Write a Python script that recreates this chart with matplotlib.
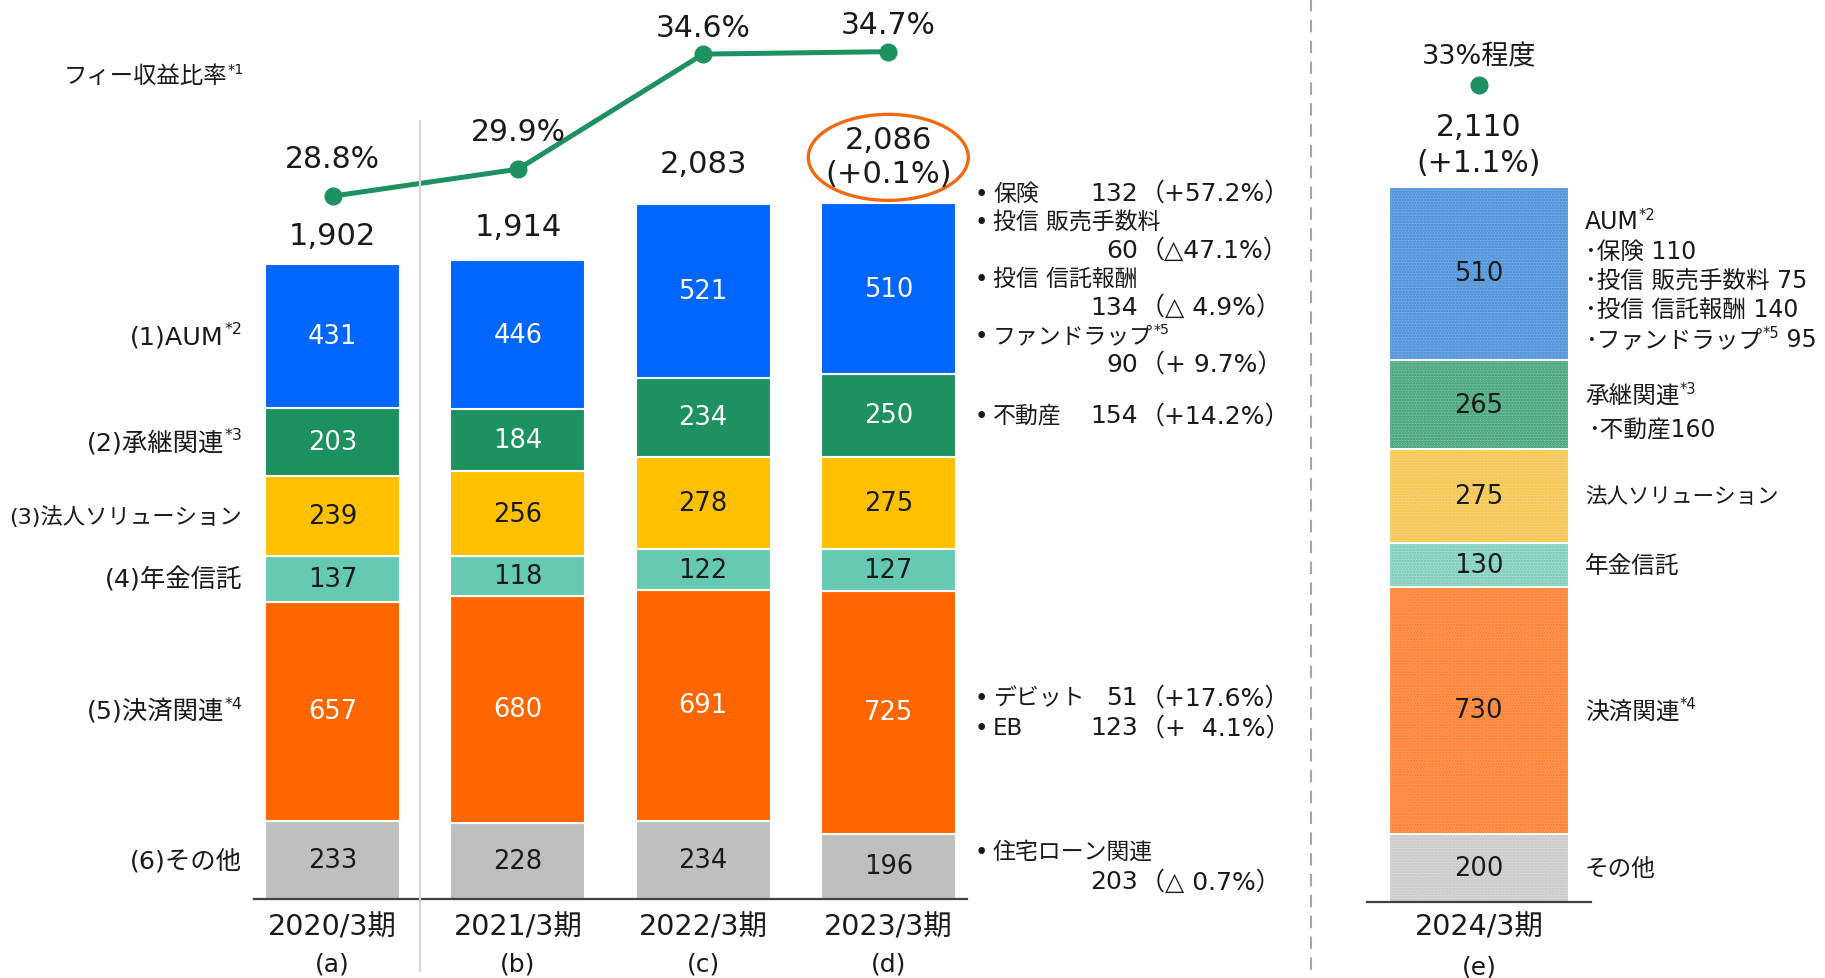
import matplotlib
matplotlib.use("Agg")
import numpy as np
import matplotlib.pyplot as plt
from matplotlib.patches import Ellipse
from matplotlib.lines import Line2D
from matplotlib.transforms import IdentityTransform

plt.rcParams['font.family'] = ['DejaVu Sans', 'Noto Sans CJK JP']
plt.rcParams['hatch.linewidth'] = 1.2

# ---------------- data ----------------
periods = ['2020/3期', '2021/3期', '2022/3期', '2023/3期']
period_tags = ['(a)', '(b)', '(c)', '(d)']
seg_labels = ['(1)AUM', '(2)承継関連', '(3)法人ソリューション', '(4)年金信託', '(5)決済関連', '(6)その他']
seg_notes = ['*2', '*3', '', '', '*4', '']
aum = [431, 446, 521, 510]
succession = [203, 184, 234, 250]
corporate = [239, 256, 278, 275]
pension = [137, 118, 122, 127]
settlement = [657, 680, 691, 725]
other = [233, 228, 234, 196]
totals = [1902, 1914, 2083, 2086]
last_growth = '+0.1%'
fee_ratio = [28.8, 29.9, 34.6, 34.7]

plan_period = '2024/3期'
plan_tag = '(e)'
plan_values = [510, 265, 275, 130, 730, 200]   # AUM .. その他 (top to bottom)
plan_total = 2110
plan_growth = '+1.1%'
plan_ratio = 33
plan_labels = ['AUM', '承継関連', '法人ソリューション', '年金信託', '決済関連', 'その他']
plan_notes = ['*2', '*3', '', '', '*4', '']

aum_items = ['保険', '投信 販売手数料', '投信 信託報酬', 'ファンドラップ']
aum_items_2023 = [132, 60, 134, 90]
aum_items_chg = ['+57.2%', '△47.1%', '△ 4.9%', '+ 9.7%']
aum_items_plan = [110, 75, 140, 95]
realty_2023, realty_chg, realty_plan = 154, '+14.2%', 160
settle_items = ['デビット', 'EB']
settle_items_2023 = [51, 123]
settle_items_chg = ['+17.6%', '+  4.1%']
mortgage_2023, mortgage_chg = 203, '△ 0.7%'

# ---------------- styles ----------------
colors = ['#0066FF', '#1E9160', '#FFC000', '#66C9B4', '#FF6600', '#BFBFBF']
text_cols = ['white', 'white', '#1a1a1a', '#1a1a1a', 'white', '#1a1a1a']
plan_face = ['#78ACE2', '#74BF9C', '#F8D57A', '#A5DFD0', '#FF9C5C', '#DADADA']
plan_hatch = ['#3A88D6', '#35996C', '#F0BF3C', '#6AC7B0', '#FF7722', '#C2C2C2']
green = '#1E9160'
ink = '#1a1a1a'

W, H = 1825, 979
fig = plt.figure(figsize=(W / 100, H / 100), dpi=100)
R = fig.canvas.get_renderer()


def rich(x, y, parts, size, ha='left', color=ink):
    """draw text pieces (text, is_superscript) in display pixels"""
    seq = parts if ha == 'left' else parts[::-1]
    for s, small in seq:
        if not s:
            continue
        fs = size * 0.62 if small else size
        dy = size * 1.389 * 0.3 if small else 0
        t = fig.text(x, y + dy, s, fontsize=fs, ha=ha, va='center', color=color,
                     transform=IdentityTransform())
        w = t.get_window_extent(R).width
        x = x + w if ha == 'left' else x - w


# ---------------- main chart ----------------
ax = fig.add_axes([254 / W, 79 / H, 713 / W, 900 / H])
ax.set_xlim(-0.425, 3.425)
ax.set_ylim(0, 2695)
for s in ['top', 'left', 'right']:
    ax.spines[s].set_visible(False)
ax.spines['bottom'].set_color('#404040')
ax.spines['bottom'].set_linewidth(1.6)
ax.set_xticks([])
ax.set_yticks([])
ax.patch.set_alpha(0)

x = np.arange(len(periods))
stack = [aum, succession, corporate, pension, settlement, other]
bottom = np.zeros(len(x))
seg_center = {}
for k in range(len(stack) - 1, -1, -1):
    vals = np.array(stack[k])
    ax.bar(x, vals, 0.73, bottom=bottom, color=colors[k], edgecolor='white', linewidth=1.5)
    for xi, b, v in zip(x, bottom, vals):
        ax.text(xi, b + v / 2, str(v), ha='center', va='center', fontsize=18.5, color=text_cols[k])
    seg_center[k] = bottom + vals / 2
    bottom = bottom + vals

# totals
for xi, t, off in zip(x[:-1], totals[:-1], [28, 33, 40]):
    ax.annotate(f'{t:,}', (xi, t), xytext=(0, off), textcoords='offset pixels',
                ha='center', va='center', fontsize=22, color=ink)
ax.annotate(f'{totals[-1]:,}', (x[-1], totals[-1]), xytext=(0, 63), textcoords='offset pixels',
            ha='center', va='center', fontsize=22, color=ink)
ax.annotate(f'({last_growth})', (x[-1], totals[-1]), xytext=(0, 29), textcoords='offset pixels',
            ha='center', va='center', fontsize=22, color=ink)
ppu = ax.bbox.height / 2695
xpu = ax.bbox.width / 3.85
ax.add_patch(Ellipse((x[-1], totals[-1] + 45 / ppu), 160 / xpu, 86 / ppu,
                     fill=False, edgecolor='#F26A10', linewidth=2.4, clip_on=False))

# period labels
for xi, p, tg in zip(x, periods, period_tags):
    ax.annotate(p, (xi, 0), xytext=(0, -28), textcoords='offset pixels',
                ha='center', va='center', fontsize=20.5, color=ink)
    ax.annotate(tg, (xi, 0), xytext=(0, -65), textcoords='offset pixels',
                ha='center', va='center', fontsize=18, color=ink)

# fee ratio line
ax2 = ax.twinx()
ax2.set_ylim(0.1, 36.85)
ax2.axis('off')
ax2.plot(x, fee_ratio, color=green, lw=3.6, marker='o', ms=12, clip_on=False)
for xi, r in zip(x, fee_ratio):
    ax2.annotate(f'{r}%', (xi, r), xytext=(0, 38 if r < 34 else 27), textcoords='offset pixels',
                 ha='center', va='center', fontsize=21.5, color=ink)
rich(64, H - 77, [('フィー収益比率', False), ('*1', True)], 16.8)

# category labels (aligned with first bar)
for k in range(len(seg_labels)):
    yd = ax.transData.transform((0, seg_center[k][0]))[1]
    size = 18.3 if len(seg_labels[k]) < 9 else 16.1
    rich(242, yd, [(seg_labels[k], False), (seg_notes[k], True)], size, ha='right')

# right-hand detail for 2023/3
fs = 16.5
fsn = 18
def detail_line(y, bullet=None, note='', num=None, chg=None):
    if bullet is not None:
        fig.text(975, y, '•', fontsize=fs, ha='left', va='center', color=ink,
                 transform=IdentityTransform())
        rich(993, y, [(bullet, False), (note, True)], fs)
    if num is not None:
        fig.text(1138, y, str(num), fontsize=fsn, ha='right', va='center', color=ink,
                 transform=IdentityTransform())
        fig.text(1140, y, f'（{chg}）', fontsize=fsn, ha='left', va='center', color=ink,
                 transform=IdentityTransform())

def seg_y(k, i=-1):
    return ax.transData.transform((0, seg_center[k][i]))[1]

step = 28.5
yc = seg_y(0) + 10
lines = [(aum_items[0], '', aum_items_2023[0], aum_items_chg[0])]
for j in range(1, 4):
    lines.append((aum_items[j], '*5' if j == 3 else '', None, None))
    lines.append((None, '', aum_items_2023[j], aum_items_chg[j]))
for i, (b, n, v, c) in enumerate(lines):
    detail_line(yc - (i - (len(lines) - 1) / 2) * step, b, n, v, c)
detail_line(seg_y(1), '不動産', '', realty_2023, realty_chg)
yc = seg_y(4)
for i in range(2):
    detail_line(yc - (i - 0.5) * 30, settle_items[i], '', settle_items_2023[i], settle_items_chg[i])
yc = seg_y(5)
detail_line(yc + 15, '住宅ローン関連')
detail_line(yc - 15, None, '', mortgage_2023, mortgage_chg)

# separators
fig.add_artist(Line2D([420, 420], [H - 122, H - 972], color='#D4D4D4', lw=1.6,
                      transform=IdentityTransform()))
fig.add_artist(Line2D([1311, 1311], [H, 0], color='#A6A6A6', lw=1.5, dashes=(6, 4),
                      transform=IdentityTransform()))

# ---------------- plan (2024/3) ----------------
ex = fig.add_axes([1367 / W, 76 / H, 224 / W, 903 / H])
ex.set_xlim(-0.5, 0.5)
ex.set_ylim(0, 2664)
for s in ['top', 'left', 'right']:
    ex.spines[s].set_visible(False)
ex.spines['bottom'].set_color('#404040')
ex.spines['bottom'].set_linewidth(1.6)
ex.set_xticks([])
ex.set_yticks([])
ex.patch.set_alpha(0)

b = 0
plan_center = {}
for k in range(len(plan_values) - 1, -1, -1):
    v = plan_values[k]
    ex.bar(0, v, 0.8, bottom=b, color=plan_face[k], edgecolor='none', linewidth=0)
    ex.bar(0, v, 0.8, bottom=b, fill=False, hatch='......', edgecolor=plan_hatch[k], linewidth=0)
    ex.bar(0, v, 0.8, bottom=b, fill=False, edgecolor='white', linewidth=1.5)
    ex.text(0, b + v / 2, str(v), ha='center', va='center', fontsize=18.5, color=ink)
    plan_center[k] = b + v / 2
    b += v

ex.annotate(f'{plan_total:,}', (0, plan_total), xytext=(0, 60), textcoords='offset pixels',
            ha='center', va='center', fontsize=21.5, color=ink)
ex.annotate(f'({plan_growth})', (0, plan_total), xytext=(0, 24), textcoords='offset pixels',
            ha='center', va='center', fontsize=21.5, color=ink)
ex.annotate(plan_period, (0, 0), xytext=(0, -25), textcoords='offset pixels',
            ha='center', va='center', fontsize=20.5, color=ink)
ex.annotate(plan_tag, (0, 0), xytext=(0, -65), textcoords='offset pixels',
            ha='center', va='center', fontsize=18, color=ink)

ex2 = ex.twinx()
ex2.set_ylim(-0.35, 36.51)
ex2.axis('off')
ex2.plot([0], [plan_ratio], 'o', color=green, ms=12, clip_on=False)
ex2.annotate(f'{plan_ratio}%程度', (0, plan_ratio), xytext=(0, 29), textcoords='offset pixels',
             ha='center', va='center', fontsize=19.5, color=ink)

def plan_y(k):
    return ex.transData.transform((0, plan_center[k]))[1]

fs2 = 17
yc = plan_y(0) - 7
plines = [[(plan_labels[0], False), (plan_notes[0], True)]]
for j in range(4):
    if j == 3:
        plines.append([('･' + aum_items[j], False), ('*5', True), (f' {aum_items_plan[j]}', False)])
    else:
        plines.append([(f'･{aum_items[j]} {aum_items_plan[j]}', False)])
for i, parts in enumerate(plines):
    rich(1585, yc - (i - 2) * 29.5, parts, fs2)
yc = plan_y(1) - 8
rich(1585, yc + 17, [(plan_labels[1], False), (plan_notes[1], True)], fs2)
rich(1588, yc - 17, [(f'･不動産{realty_plan}', False)], fs2)
for k in range(2, 6):
    size = fs2 if len(plan_labels[k]) < 8 else 15.5
    rich(1585, plan_y(k), [(plan_labels[k], False), (plan_notes[k], True)], size)

fig.savefig('out.png', dpi=100)
